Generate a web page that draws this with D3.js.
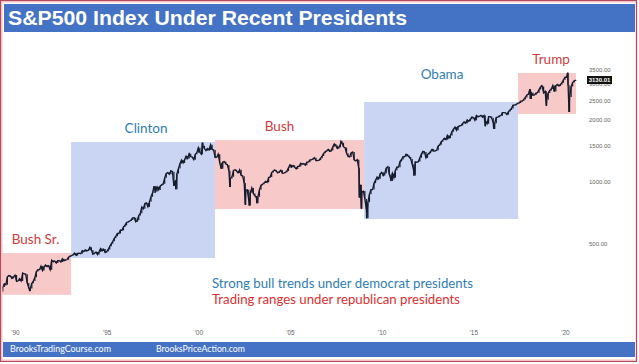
<!DOCTYPE html>
<html><head><meta charset="utf-8">
<script src="https://cdn.jsdelivr.net/npm/d3@7"></script>
<style>html,body{margin:0;padding:0;background:#fff;}svg{display:block;}</style>
</head><body>
<svg id="chart" width="639" height="364"></svg>
<script>
// ---------------- DATA ----------------
const titleText = "S&P500 Index Under Recent Presidents";
const startYear = 1989; // monthly closes from Jan 1989
const monthlyClose = [
297,289,294,309,320,317,346,351,349,340,346,353,
329,331,339,330,361,358,356,323,306,304,322,330,
344,367,375,375,390,371,388,395,388,392,375,417,
409,413,404,415,415,408,424,414,418,419,431,436,
439,443,452,440,450,451,448,464,459,468,462,466,
482,467,446,451,457,444,458,475,463,472,454,459,
470,487,501,515,533,545,562,562,584,582,605,616,
636,640,646,654,669,671,640,652,687,705,757,741,
786,791,757,801,848,885,954,899,947,915,955,970,
980,1049,1101,1112,1091,1134,1121,957,1017,1099,1164,1229,
1280,1238,1286,1335,1302,1373,1329,1320,1283,1363,1389,1469,
1394,1366,1499,1452,1421,1455,1431,1518,1437,1429,1315,1320,
1366,1240,1160,1249,1256,1224,1211,1134,1041,1060,1139,1148,
1130,1107,1147,1077,1067,990,912,916,815,886,936,880,
856,841,848,917,964,975,990,1008,996,1051,1058,1112,
1131,1145,1126,1107,1121,1141,1102,1104,1115,1130,1174,1212,
1181,1204,1181,1157,1192,1191,1234,1220,1229,1207,1249,1248,
1280,1281,1295,1311,1270,1270,1277,1304,1336,1378,1401,1418,
1438,1407,1421,1482,1531,1503,1455,1474,1527,1549,1481,1468,
1379,1331,1323,1386,1400,1280,1267,1283,1165,969,896,903,
826,735,798,873,919,919,987,1021,1057,1036,1096,1115,
1074,1104,1169,1187,1089,1031,1102,1049,1141,1183,1181,1258,
1286,1327,1326,1364,1345,1321,1292,1219,1131,1253,1247,1258,
1312,1366,1408,1398,1310,1362,1379,1407,1441,1412,1416,1426,
1498,1515,1569,1598,1631,1606,1686,1633,1682,1757,1806,1848,
1783,1859,1872,1884,1924,1960,1931,2003,1972,2018,2068,2059,
1995,2105,2068,2086,2107,2063,2104,1972,1920,2079,2080,2044,
1940,1932,2060,2065,2097,2099,2174,2171,2168,2126,2199,2239,
2279,2364,2363,2384,2412,2423,2470,2472,2519,2575,2648,2674,
2824,2714,2641,2648,2705,2718,2816,2902,2914,2712,2760,2507,
2704,2784,2834,2946,2752,2942,2980,2926,2977,3038,3141,3231,
3226,2954,2585,2912,3044,3100,3130.01
];
// intra-month extremes (decimal year, value)
const spikeDates  = [1990.80,1998.77,2000.22,2001.72,2002.56,2002.78,2003.19,2007.78,2008.78,2008.89,2009.18,2010.50,2011.76,2015.65,2016.11,2018.11,2018.73,2018.98,2020.14,2020.22];
const spikeValues = [295,923,1553,945,775,768,789,1576,840,741,666,1011,1074,1867,1810,2533,2941,2346,3393,2191];

// presidential terms shown as boxes
const presidents = ["Bush Sr.","Clinton","Bush","Obama","Trump"];
const party      = ["R","D","R","D","R"];
const boxStart   = [1989.0,1993.06,2000.91,2009.04,2017.44];
const boxEnd     = [1993.06,2000.91,2009.04,2017.44,2020.60];
const boxLow     = [283,427,739,661,2140];
const boxHigh    = [452,1564,1600,2447,3385];

const yTicks = [500,1000,1500,2000,2500,3000,3500];
const xTicks = [1990,1995,2000,2005,2010,2015,2020];
const lastValue = 3130.01;
const noteLines = ["Strong bull trends under democrat presidents","Trading ranges under republican presidents"];
const footerTexts = ["BrooksTradingCourse.com","BrooksPriceAction.com"];

// ---------------- STYLE / LAYOUT ----------------
const W = 639, H = 364;
const colFill = {R:"#f8c9c9", D:"#c9d5f2"};
const colText = {R:"#cf3b3b", D:"#2f7db6"};
const barBlue = "#4472c4";
const labelDx = [0, 3, -10, 1, 4];     // label offsets from box centre
const labelDy = [-12, -12, -12, -26, -12];
const noteWidths = [261, 248];
const footerX = [10, 156];
const footerWidths = [101, 89];

const svg = d3.select("#chart");
svg.append("rect").attr("width",W).attr("height",H).attr("fill","#fff");

const x = d3.scaleLinear().domain([1990,2020]).range([15,565]);
const y = d3.scaleLog().domain([250,4000]).range([305.9,58.1]);

// clip for plot
svg.append("clipPath").attr("id","plotclip").append("rect")
  .attr("x",2).attr("y",33).attr("width",632).attr("height",308);
const plot = svg.append("g").attr("clip-path","url(#plotclip)");

// boxes
presidents.forEach((p,i)=>{
  plot.append("rect")
    .attr("x", x(boxStart[i])).attr("y", y(boxHigh[i]))
    .attr("width", x(boxEnd[i]) - x(boxStart[i]))
    .attr("height", y(boxLow[i]) - y(boxHigh[i]))
    .attr("fill", colFill[party[i]]);
});

// price points: monthly closes + intra-month extremes
const pts = monthlyClose.map((v,i)=>({t: startYear + (i+1)/12, v}))
  .concat(spikeDates.map((t,i)=>({t, v: spikeValues[i]})))
  .sort((a,b)=>a.t-b.t);

// bar-like vertical segments between successive points
plot.append("g").selectAll("line").data(pts.slice(1)).join("line")
  .attr("x1",(d)=>x(d.t)).attr("x2",(d)=>x(d.t))
  .attr("y1",(d,i)=>y(pts[i].v)).attr("y2",(d)=>y(d.v))
  .attr("stroke","#151a2c").attr("stroke-width",1.2);

plot.append("path").datum(pts)
  .attr("d", d3.line().x(d=>x(d.t)).y(d=>y(d.v)))
  .attr("fill","none").attr("stroke","#151a2c").attr("stroke-width",1.3)
  .attr("stroke-linejoin","miter");

// president labels
presidents.forEach((p,i)=>{
  svg.append("text")
    .attr("x", (x(Math.max(boxStart[i],1989.18)) + x(boxEnd[i]))/2 + labelDx[i])
    .attr("y", y(boxHigh[i]) + labelDy[i])
    .attr("text-anchor","middle").attr("dominant-baseline","middle")
    .attr("font-family","Lato, 'Open Sans', sans-serif").attr("font-size",13.5)
    .attr("fill", colText[party[i]]).text(p);
});

// notes
noteLines.forEach((t,i)=>{
  svg.append("text").attr("x",212).attr("y",288 + i*16)
    .attr("font-family","Lato, 'Open Sans', sans-serif").attr("font-size",13)
    .attr("textLength", noteWidths[i]).attr("lengthAdjust","spacingAndGlyphs")
    .attr("fill", i===0 ? colText.D : "#dc3030").text(t);
});

// y axis (right)
const yAxis = d3.axisRight(y).tickValues(yTicks).tickFormat(d3.format(".2f")).tickSize(0).tickPadding(0);
const gy = svg.append("g").attr("transform","translate(589,0)").call(yAxis);
gy.select(".domain").remove();
gy.selectAll("text").attr("font-family","Arial, 'Liberation Sans', sans-serif").attr("font-size",6).attr("fill","#666");

// last value marker
const gl = svg.append("g");
gl.append("rect").attr("x",587).attr("y",y(lastValue)-4).attr("width",25).attr("height",8).attr("fill","#111");
gl.append("text").attr("x",599.5).attr("y",y(lastValue)).attr("text-anchor","middle").attr("dominant-baseline","middle")
  .attr("font-family","Arial, 'Liberation Sans', sans-serif").attr("font-size",6).attr("font-weight","bold").attr("fill","#fff")
  .text(d3.format(".2f")(lastValue));

// x axis
const xAxis = d3.axisBottom(x).tickValues(xTicks).tickFormat(d=>"'"+String(d).slice(2)).tickSize(0).tickPadding(0);
const gx = svg.append("g").attr("transform","translate(0,330)").call(xAxis);
gx.select(".domain").remove();
gx.selectAll("text").attr("font-family","Arial, 'Liberation Sans', sans-serif").attr("font-size",6.5).attr("fill","#666");

// title bar
svg.append("rect").attr("x",4).attr("y",4).attr("width",631).attr("height",28).attr("fill",barBlue);
svg.append("text").attr("x",8).attr("y",25).attr("fill","#fff")
  .attr("font-family","'Liberation Sans', Arial, sans-serif").attr("font-weight","bold").attr("font-size",20.5)
  .attr("textLength",399).attr("lengthAdjust","spacingAndGlyphs")
  .text(titleText);

// footer bar
svg.append("rect").attr("x",3).attr("y",342).attr("width",632).attr("height",15).attr("fill",barBlue);
footerTexts.forEach((t,i)=>{
  svg.append("text").attr("x", footerX[i]).attr("y",350).attr("dominant-baseline","middle")
    .attr("font-family","Lato, 'Open Sans', sans-serif").attr("font-size",9.5)
    .attr("textLength", footerWidths[i]).attr("lengthAdjust","spacingAndGlyphs")
    .attr("fill","#fff").text(t);
});

// outer frame
svg.append("rect").attr("x",1.5).attr("y",1.5).attr("width",635).attr("height",359)
  .attr("fill","none").attr("stroke","#f2c4c8").attr("stroke-width",2);
svg.append("rect").attr("x",0.5).attr("y",0.5).attr("width",636).attr("height",361)
  .attr("fill","none").attr("stroke","#b5485a").attr("stroke-width",1);
</script>
</body></html>
